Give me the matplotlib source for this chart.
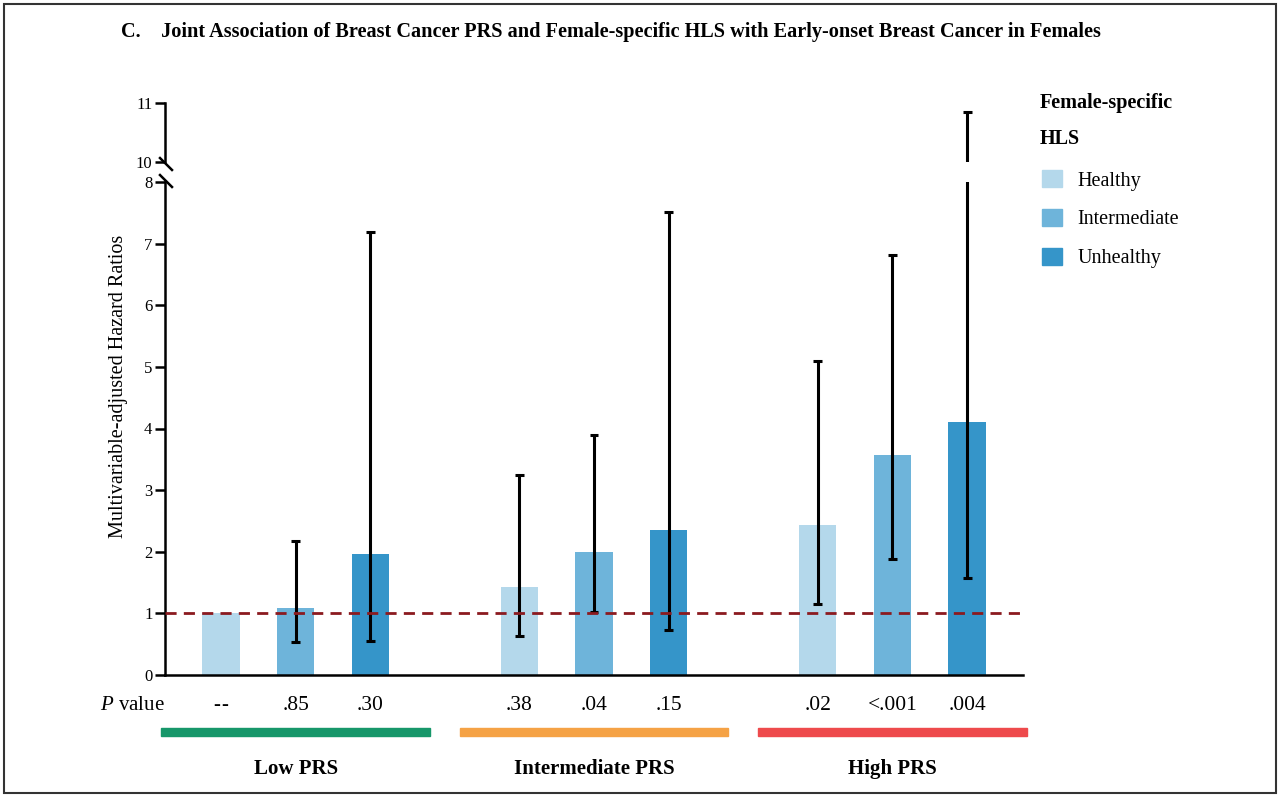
import matplotlib.pyplot as plt
from matplotlib.patches import Rectangle, Patch

plt.rcParams['font.family'] = ['Liberation Serif', 'DejaVu Serif']
plt.rcParams['mathtext.fontset'] = 'custom'
plt.rcParams['mathtext.it'] = 'Liberation Serif:italic'
plt.rcParams['mathtext.rm'] = 'Liberation Serif'

# ---- data ----
prs_groups = ['Low PRS', 'Intermediate PRS', 'High PRS']
hls_levels = ['Healthy', 'Intermediate', 'Unhealthy']
hr = [1.00, 1.08, 1.97,
      1.43, 2.00, 2.35,
      2.43, 3.57, 4.11]
ci_low = [None, 0.54, 0.55,
          0.64, 1.02, 0.73,
          1.16, 1.88, 1.57]
ci_high = [None, 2.18, 7.19,
           3.24, 3.90, 7.52,
           5.10, 6.82, 10.85]
p_values = ['--', '.85', '.30', '.38', '.04', '.15', '.02', '<.001', '.004']

hls_colors = ['#b4d8eb', '#6eb4da', '#3595c9']
group_colors = ['#17976a', '#f5a245', '#ee4a4c']

x = [g * 4 + k for g in range(3) for k in range(3)]
colors = [hls_colors[k] for g in range(3) for k in range(3)]

fig = plt.figure(figsize=(12.8, 7.97), dpi=100)
W, H = 1280, 797

def fx(px):
    return px / W

def fy(py):
    return 1 - py / H

ax = fig.add_axes([fx(165), fy(675), fx(1023) - fx(165), fy(182) - fy(675)])
ax_top = fig.add_axes([fx(165), fy(162), fx(1023) - fx(165), fy(103) - fy(162)])

for a in (ax, ax_top):
    a.bar(x, hr, width=0.5, color=colors, zorder=2)
    for xi, lo, hi in zip(x, ci_low, ci_high):
        if lo is None:
            continue
        a.plot([xi, xi], [lo, hi], color='black', lw=2.2, zorder=4, solid_capstyle='butt')
        for yv in (lo, hi):
            a.plot([xi - 0.06, xi + 0.06], [yv, yv], color='black', lw=2.2, zorder=4,
                   solid_capstyle='butt')
    a.set_xlim(-0.75, 10.75)
    a.spines['top'].set_visible(False)
    a.spines['right'].set_visible(False)
    a.spines['left'].set_linewidth(1.8)
    a.tick_params(axis='y', length=7, width=1.8, labelsize=12, pad=2)
    a.set_xticks([])

ax.set_ylim(0, 8)
ax.set_yticks(range(0, 9))
ax.spines['bottom'].set_linewidth(1.8)
ax.axhline(1, color='#8b1a1f', lw=2, ls=(0, (4, 2.6)), zorder=5)

ax_top.set_ylim(10, 11)
ax_top.set_yticks([10, 11])
ax_top.spines['bottom'].set_visible(False)
ax_top.patch.set_alpha(0)

# axis break marks
for yb in (fy(164), fy(181)):
    fig.add_artist(plt.Line2D([fx(160), fx(172)], [yb + 0.0075, yb - 0.0075],
                              color='black', lw=1.8, transform=fig.transFigure))

ax.set_ylabel('Multivariable-adjusted Hazard Ratios', fontsize=14.5)
ax.yaxis.set_label_coords(-0.043, 0.586)

# P values
ax.text(-0.75, -0.5, r'$\it{P}$ value', ha='right', va='center', fontsize=15)
for xi, pv in zip(x, p_values):
    if pv == '--':
        for dx in (-3.0, 3.0):
            ax.annotate('-', (xi, -0.5), xytext=(dx, 0), textcoords='offset points',
                        ha='center', va='center', fontsize=15, annotation_clip=False)
    else:
        ax.text(xi, -0.5, pv, ha='center', va='center', fontsize=15.5)

# group bars and labels
for g, (name, c) in enumerate(zip(prs_groups, group_colors)):
    center = g * 4 + 1
    ax.add_patch(Rectangle((center - 1.8, -0.99), 3.6, 0.13, color=c, clip_on=False))
    ax.text(center, -1.52, name, ha='center', va='center', fontsize=15, fontweight='bold')

# legend
handles = [Patch(color=c, label=l) for c, l in zip(hls_colors, hls_levels)]
fig.legend(handles=handles, loc='upper left', bbox_to_anchor=(fx(1034), fy(162)),
           frameon=False, fontsize=14.5, handlelength=1.0, handleheight=0.95,
           labelspacing=0.9, handletextpad=0.75, borderaxespad=0)
fig.text(fx(1040), fy(103), 'Female-specific', fontsize=14.5, fontweight='bold', va='center')
fig.text(fx(1040), fy(139), 'HLS', fontsize=14.5, fontweight='bold', va='center')

fig.text(fx(121), fy(32),
         'C.    Joint Association of Breast Cancer PRS and Female-specific HLS with '
         'Early-onset Breast Cancer in Females',
         fontsize=14.6, fontweight='bold', va='center')

fig.add_artist(Rectangle((0.003, 0.005), 0.994, 0.99, fill=False, ec='#333333', lw=1.5,
                         transform=fig.transFigure))

fig.savefig('out.png', dpi=100)
